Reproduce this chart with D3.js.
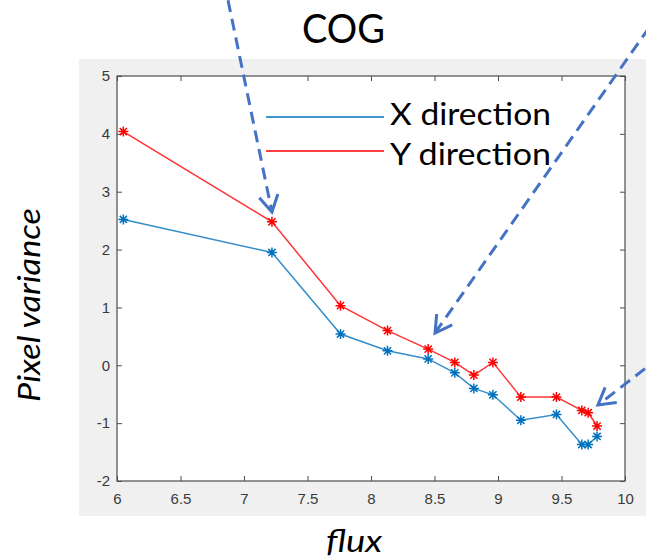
<!DOCTYPE html>
<html>
<head>
<meta charset="utf-8">
<script src="https://cdn.jsdelivr.net/npm/d3@7"></script>
<style>
  body { margin: 0; background: #fff; }
  svg { display: block; }
</style>
</head>
<body>
<script>
// Centroid (COG) pixel variance against flux, one series per direction
const flux = [6.05, 7.22, 7.76, 8.13, 8.45, 8.66, 8.81, 8.96, 9.18, 9.46, 9.66, 9.71, 9.78];
const xDirection = [2.52, 1.95, 0.54, 0.25, 0.11, -0.13, -0.40, -0.51, -0.95, -0.85, -1.37, -1.37, -1.23];
const yDirection = [4.04, 2.48, 1.03, 0.60, 0.28, 0.05, -0.17, 0.05, -0.55, -0.55, -0.78, -0.82, -1.05];
const xTicks = [6, 6.5, 7, 7.5, 8, 8.5, 9, 9.5, 10];
const yTicks = [-2, -1, 0, 1, 2, 3, 4, 5];
const seriesNames = ["X direction", "Y direction"];
const seriesColors = ["#0072BD", "#FF0000"];
// Callout arrows in data units: [tailX, tailY, tipX, tipY]
const callouts = [
  [6.874, 6.31, 7.22, 2.65],
  [10.276, 6.106, 8.504, 0.558],
  [10.276, 0.143, 9.787, -0.686]
];

const W = 646, H = 559;
const plot = { left: 117, right: 625, top: 76, bottom: 481 };

const svg = d3.select("body").append("svg")
  .attr("width", W).attr("height", H);

// Figure panel
svg.append("rect")
  .attr("x", 79).attr("y", 59).attr("width", W - 79).attr("height", 516 - 59)
  .attr("fill", "#f0f0f0");

const x = d3.scaleLinear().domain([6, 10]).range([plot.left, plot.right]);
const y = d3.scaleLinear().domain([-2, 5]).range([plot.bottom, plot.top]);

// Axes background
svg.append("rect")
  .attr("x", plot.left).attr("y", plot.top)
  .attr("width", plot.right - plot.left).attr("height", plot.bottom - plot.top)
  .attr("fill", "#fff");

const fmt = d => String(d);
const tickFont = "'Liberation Sans', Arial, sans-serif";

function styleAxis(g, showLabels) {
  g.select(".domain").remove();
  g.selectAll(".tick line").attr("stroke", "#4d4d4d").attr("stroke-width", 1);
  g.selectAll(".tick text")
    .attr("fill", "#3a3a3a")
    .style("font-family", tickFont)
    .style("font-size", "15px");
  if (!showLabels) g.selectAll(".tick text").remove();
}

svg.append("g").attr("transform", `translate(0,${plot.bottom})`)
  .call(d3.axisBottom(x).tickValues(xTicks).tickFormat(fmt).tickSize(-5).tickPadding(12))
  .call(g => styleAxis(g, true));
svg.append("g").attr("transform", `translate(0,${plot.top})`)
  .call(d3.axisTop(x).tickValues(xTicks).tickFormat(fmt).tickSize(-5))
  .call(g => styleAxis(g, false));
svg.append("g").attr("transform", `translate(${plot.left},0)`)
  .call(d3.axisLeft(y).tickValues(yTicks).tickFormat(fmt).tickSize(-5).tickPadding(7))
  .call(g => styleAxis(g, true));
svg.append("g").attr("transform", `translate(${plot.right},0)`)
  .call(d3.axisRight(y).tickValues(yTicks).tickFormat(fmt).tickSize(-5))
  .call(g => styleAxis(g, false));

// Axes box
svg.append("rect")
  .attr("x", plot.left).attr("y", plot.top)
  .attr("width", plot.right - plot.left).attr("height", plot.bottom - plot.top)
  .attr("fill", "none").attr("stroke", "#4d4d4d").attr("stroke-width", 1.2);

// Series lines with asterisk markers
const series = [xDirection, yDirection];
const line = d3.line().x(d => x(d[0])).y(d => y(d[1]));
const r = 5;
const star = `M0,${-r}V${r}M${-r},0H${r}` +
  `M${-r * 0.72},${-r * 0.72}L${r * 0.72},${r * 0.72}M${-r * 0.72},${r * 0.72}L${r * 0.72},${-r * 0.72}`;

series.forEach((vals, i) => {
  const pts = flux.map((f, j) => [f, vals[j]]);
  const g = svg.append("g");
  g.append("path")
    .attr("d", line(pts))
    .attr("fill", "none")
    .attr("stroke", seriesColors[i])
    .attr("stroke-width", 1.5)
    .attr("stroke-opacity", 0.8);
  g.selectAll("path.marker").data(pts).enter().append("path")
    .attr("class", "marker")
    .attr("transform", d => `translate(${x(d[0])},${y(d[1])})`)
    .attr("d", star)
    .attr("fill", "none")
    .attr("stroke", seriesColors[i])
    .attr("stroke-width", 1.5);
});

// Legend
const legendFont = "Lato, 'Open Sans', sans-serif";
const legendRows = [
  { lineY: 117, textY: 125 },
  { lineY: 151, textY: 165 }
];
seriesNames.forEach((name, i) => {
  svg.append("line")
    .attr("x1", 266).attr("x2", 384)
    .attr("y1", legendRows[i].lineY).attr("y2", legendRows[i].lineY)
    .attr("stroke", seriesColors[i]).attr("stroke-width", 1.6);
  svg.append("text")
    .attr("x", 390).attr("y", legendRows[i].textY)
    .attr("textLength", 161).attr("lengthAdjust", "spacingAndGlyphs")
    .style("font-family", legendFont).style("font-size", "30px")
    .attr("fill", "#000")
    .text(name);
});

// Title and axis labels
svg.append("text")
  .attr("x", 302).attr("y", 43)
  .attr("textLength", 83).attr("lengthAdjust", "spacingAndGlyphs")
  .style("font-family", legendFont).style("font-size", "41px")
  .attr("fill", "#000").text("COG");

svg.append("text")
  .attr("x", 354).attr("y", 552)
  .attr("text-anchor", "middle")
  .attr("textLength", 56).attr("lengthAdjust", "spacingAndGlyphs")
  .style("font-family", legendFont).style("font-size", "31px").style("font-style", "italic")
  .attr("fill", "#000").text("flux");

svg.append("text")
  .attr("transform", "translate(40,305) rotate(-90)")
  .attr("text-anchor", "middle")
  .attr("textLength", 194).attr("lengthAdjust", "spacingAndGlyphs")
  .style("font-family", legendFont).style("font-size", "30px").style("font-style", "italic")
  .attr("fill", "#000").text("Pixel variance");

// Dashed callout arrows
const arrowColor = "#4472C4";
callouts.forEach(c => {
  const x0 = x(c[0]), y0 = y(c[1]), x1 = x(c[2]), y1 = y(c[3]);
  svg.append("line")
    .attr("x1", x0).attr("y1", y0).attr("x2", x1).attr("y2", y1)
    .attr("stroke", arrowColor).attr("stroke-width", 3)
    .attr("stroke-dasharray", "12 7");
  const ang = Math.atan2(y0 - y1, x0 - x1);
  const len = 19, spread = Math.PI / 6;
  const a1 = [x1 + len * Math.cos(ang + spread), y1 + len * Math.sin(ang + spread)];
  const a2 = [x1 + len * Math.cos(ang - spread), y1 + len * Math.sin(ang - spread)];
  svg.append("path")
    .attr("d", `M${a1[0]},${a1[1]}L${x1},${y1}L${a2[0]},${a2[1]}`)
    .attr("fill", "none").attr("stroke", arrowColor).attr("stroke-width", 3)
    .attr("stroke-linejoin", "miter");
});
</script>
</body>
</html>
